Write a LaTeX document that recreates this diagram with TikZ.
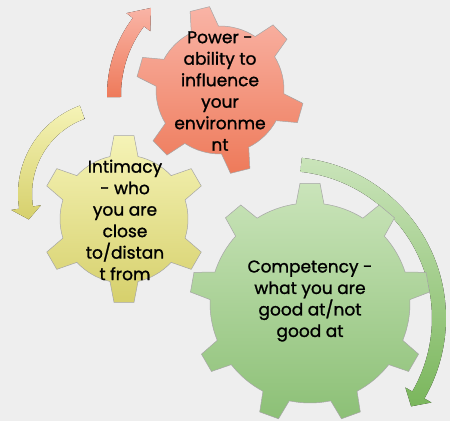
\documentclass[tikz,border=0pt]{standalone}
\usepackage{fontspec}
\setmainfont{Poppins}[FakeBold=1.2]

\definecolor{paper}{RGB}{238,238,238}
\definecolor{redtop}{RGB}{249,180,166}
\definecolor{redbot}{RGB}{238,122,90}
\definecolor{yeltop}{RGB}{245,243,182}
\definecolor{yelbot}{RGB}{214,208,108}
\definecolor{grntop}{RGB}{202,228,186}
\definecolor{grnbot}{RGB}{140,192,118}
\definecolor{grnarrow}{RGB}{122,182,92}

% gear outline: teeth, phase, root radius, tip radius
\newcommand{\gear}[4]{%
  ({#2-asin(14/#3)}:#3)
  \foreach \k in {1,...,#1} {
    -- ({#2+(\k-1)*360/#1-asin(14/#3)}:#3)
    -- ({#2+(\k-1)*360/#1-asin(10/#4)}:#4)
    -- ({#2+(\k-1)*360/#1+asin(10/#4)}:#4)
    -- ({#2+(\k-1)*360/#1+asin(14/#3)}:#3)
    arc[start angle={#2+(\k-1)*360/#1+asin(14/#3)},
        end angle={#2+\k*360/#1-asin(14/#3)}, radius=#3]
  } -- cycle}

% curved block arrow: radius, start angle, head base angle, tip angle
\newcommand{\bentarrow}[4]{%
  ({#2}:{#1+7}) arc[start angle=#2, end angle=#3, radius={#1+7}]
  -- ({#3}:{#1+15}) -- ({#4}:#1) -- ({#3}:{#1-15})
  -- ({#3}:{#1-7}) arc[start angle=#3, end angle=#2, radius={#1-7}]
  -- cycle}

\begin{document}
\begin{tikzpicture}[x=1pt, y=1pt,
    gearline/.style={draw=black!35, line width=0.5pt},
    gearlabel/.style={align=center, text=black,
      font=\fontsize{17}{21.5}\selectfont}]
  \useasboundingbox (0,0) rectangle (450,421);
  \fill[paper] (0,0) rectangle (450,421);

  % turning arrows
  \fill[shift={(235,326)}, top color=redtop, bottom color=redbot]
    \bentarrow{121}{181}{143}{134};
  \fill[shift={(112,227)}, top color=yeltop, bottom color=yelbot]
    \bentarrow{87}{110}{189}{197};
  \fill[shift={(285,103)}, top color=grntop, bottom color=grnarrow]
    \bentarrow{154}{84}{-30}{-35};

  % gears
  \draw[gearline, shift={(124,202)}, top color=yeltop, bottom color=yelbot]
    \gear{6}{90}{64}{84};
  \draw[gearline, shift={(220,331)}, top color=redtop, bottom color=redbot]
    \gear{6}{104}{64}{84};
  \draw[gearline, shift={(310,118)}, top color=grntop, bottom color=grnbot]
    \gear{9}{90}{100}{120};

  % labels
  \node[gearlabel] (power) at (220,330)
    {Power -\\ability to\\influence\\your\\environme\\nt};
  \node[gearlabel] (intimacy) at (125,201)
    {Intimacy\\- who\\you are\\close\\to/distan\\t from};
  \node[gearlabel] (competency) at (310,120)
    {Competency -\\what you are\\good at/not\\good at};
\end{tikzpicture}
\end{document}
